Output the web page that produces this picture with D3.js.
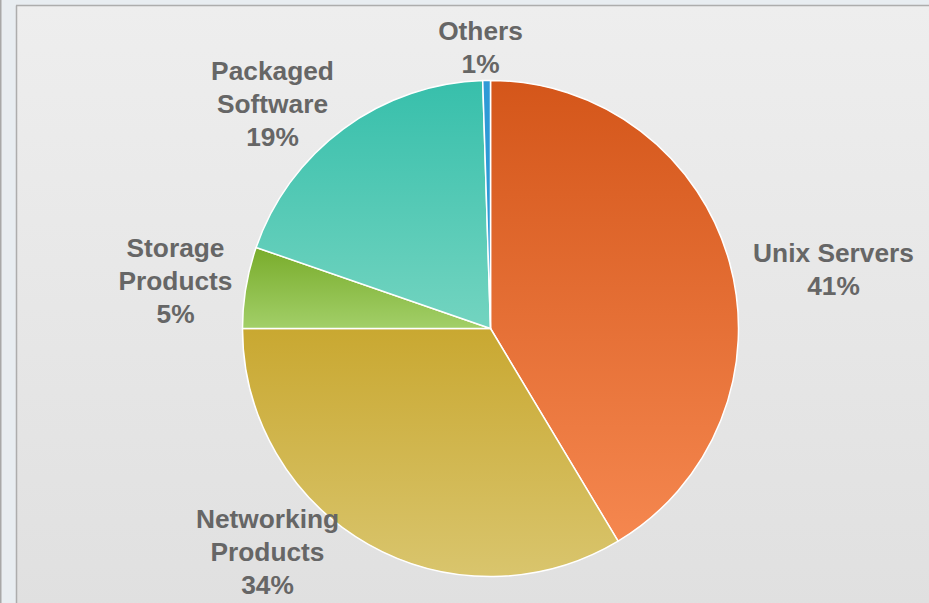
<!DOCTYPE html>
<html>
<head>
<meta charset="utf-8">
<script src="https://cdn.jsdelivr.net/npm/d3@7"></script>
<style>
  html, body { margin: 0; padding: 0; background: #e8edf1; }
  svg { display: block; }
</style>
</head>
<body>
<svg id="chart" width="929" height="603"></svg>
<script>
// ---- data ----
const categories = ["Unix Servers", "Networking Products", "Storage Products", "Packaged Software", "Others"];
const values = [41.4, 33.6, 5.3, 19.2, 0.5];
const labelLines = [["Unix Servers"], ["Networking", "Products"], ["Storage", "Products"], ["Packaged", "Software"], ["Others"]];
// ---- style ----
const topColors = ["#d4561a", "#c9a831", "#79ac2b", "#37bfab", "#2e9ad6"];
const bottomColors = ["#f5874f", "#d9c56d", "#a2cf68", "#73d4c0", "#2e9ad6"];
// label anchor offsets from pie centre (layout only)
const labelOffsets = [[343, -66.5], [-223, 199.5], [-315, -71.5], [-218, -248.5], [-10, -288.5]];

const W = 929, H = 603;
const cx = 490.5, cy = 328.5, R = 248;
const svg = d3.select("#chart");
const defs = svg.append("defs");

const bg = defs.append("linearGradient").attr("id", "bg").attr("x1", 0).attr("y1", 0).attr("x2", 0).attr("y2", 1);
bg.append("stop").attr("offset", "0%").attr("stop-color", "#eeeeee");
bg.append("stop").attr("offset", "100%").attr("stop-color", "#e0e0e0");

// outer frame
svg.append("rect").attr("x", 0).attr("y", 0).attr("width", W).attr("height", H).attr("fill", "#e8edf1");
svg.append("rect").attr("x", 0).attr("y", 0).attr("width", 1.5).attr("height", H).attr("fill", "#a8a8a8");
svg.append("rect").attr("x", 16).attr("y", 5).attr("width", W).attr("height", H).attr("fill", "url(#bg)");
svg.append("line").attr("x1", 16.5).attr("y1", 5.5).attr("x2", 16.5).attr("y2", H).attr("stroke", "#adadad").attr("stroke-width", 1.5);
svg.append("line").attr("x1", 16).attr("y1", 5.5).attr("x2", W).attr("y2", 5.5).attr("stroke", "#adadad").attr("stroke-width", 1.5);

categories.forEach((c, i) => {
  const g = defs.append("linearGradient").attr("id", "g" + i)
    .attr("x1", 0).attr("y1", 0).attr("x2", 0).attr("y2", 1);
  g.append("stop").attr("offset", "0%").attr("stop-color", topColors[i]);
  g.append("stop").attr("offset", "100%").attr("stop-color", bottomColors[i]);
});

const pie = d3.pie().sort(null).value(d => d)(values);
const arc = d3.arc().innerRadius(0).outerRadius(R);

const g = svg.append("g").attr("transform", `translate(${cx},${cy})`);
g.selectAll("path.slice").data(pie).join("path")
  .attr("class", "slice")
  .attr("d", arc)
  .attr("fill", (d, i) => `url(#g${i})`)
  .attr("stroke", "#ffffff")
  .attr("stroke-width", 1.5)
  .attr("stroke-linejoin", "round");

const total = d3.sum(values);
const lineH = 33;
const lab = g.selectAll("text.lbl").data(pie).join("text")
  .attr("class", "lbl")
  .attr("text-anchor", "middle")
  .attr("font-family", "'Liberation Sans', Arial, sans-serif")
  .attr("font-weight", "bold")
  .attr("font-size", 26.3)
  .attr("fill", "#666666")
  .attr("transform", (d, i) => `translate(${labelOffsets[i][0]},${labelOffsets[i][1]})`);
lab.each(function(d, i) {
  const lines = labelLines[i].concat([Math.round(d.value / total * 100) + "%"]);
  d3.select(this).selectAll("tspan").data(lines).join("tspan")
    .attr("x", 0)
    .attr("y", (l, k) => k * lineH)
    .text(l => l);
});
</script>
</body>
</html>
